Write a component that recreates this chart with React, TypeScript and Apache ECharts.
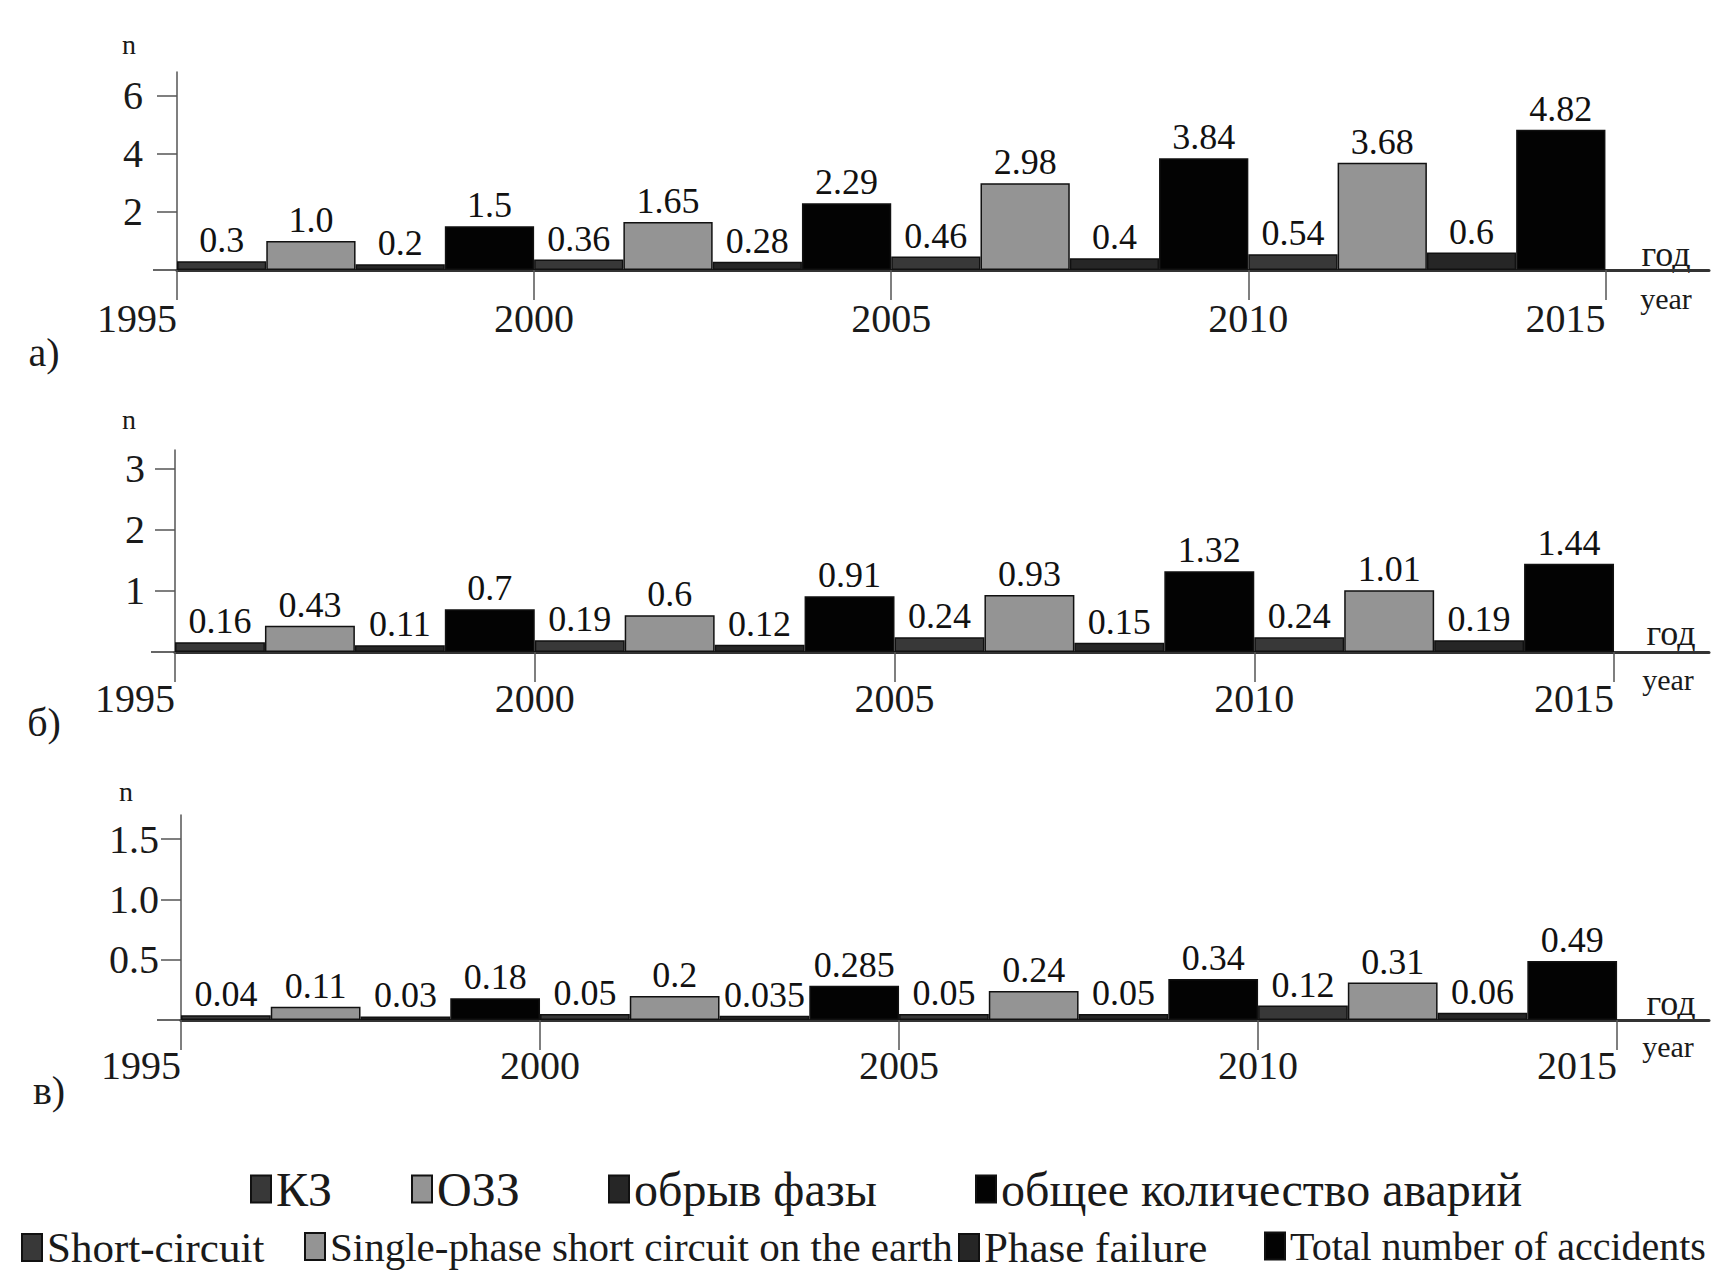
import React, { useEffect, useRef } from 'react';
import * as echarts from 'echarts';

// ---------- data ----------
const periods = [1995, 2000, 2005, 2010];
const yearTicks = [1995, 2000, 2005, 2010, 2015];
const seriesNamesRu = ['КЗ', 'ОЗЗ', 'обрыв фазы', 'общее количество аварий'];
const seriesNamesEn = ['Short-circuit', 'Single-phase short circuit on the earth', 'Phase failure', 'Total number of accidents'];

// panel а)
const kzA = [0.3, 0.36, 0.46, 0.54];
const ozzA = [1.0, 1.65, 2.98, 3.68];
const phaseA = [0.2, 0.28, 0.4, 0.6];
const totalA = [1.5, 2.29, 3.84, 4.82];
const yTicksA = [2, 4, 6];

// panel б)
const kzB = [0.16, 0.19, 0.24, 0.24];
const ozzB = [0.43, 0.6, 0.93, 1.01];
const phaseB = [0.11, 0.12, 0.15, 0.19];
const totalB = [0.7, 0.91, 1.32, 1.44];
const yTicksB = [1, 2, 3];

// panel в)
const kzC = [0.04, 0.05, 0.05, 0.12];
const ozzC = [0.11, 0.2, 0.24, 0.31];
const phaseC = [0.03, 0.035, 0.05, 0.06];
const totalC = [0.18, 0.285, 0.34, 0.49];
const yTicksC = [0.5, 1.0, 1.5];

// ---------- styling / layout ----------
const FONT = '"Liberation Serif", "Times New Roman", serif';
const colors = ['#383838', '#949494', '#262626', '#030303'];
const slotWidth = 5 / 4; // each 5-year span holds 4 adjacent bars

const panels = [
  { values: [kzA, ozzA, phaseA, totalA], yTicks: yTicksA, yMax: 6.8, yDec: 0,
    left: 177, top: 72, width: 1532, height: 198, xMax: 2016.45,
    yLabelMargin: 34, xLabelMargin: 28, letter: 'а)', letterPos: [44, 352],
    nPos: [129, 44], godPos: [1666, 254], yearPos: [1666, 298] },
  { values: [kzB, ozzB, phaseB, totalB], yTicks: yTicksB, yMax: 3.3, yDec: 0,
    left: 175, top: 450, width: 1534, height: 202, xMax: 2016.32,
    yLabelMargin: 30, xLabelMargin: 26, letter: 'б)', letterPos: [44, 722],
    nPos: [129, 419], godPos: [1671, 633], yearPos: [1668, 679] },
  { values: [kzC, ozzC, phaseC, totalC], yTicks: yTicksC, yMax: 1.7, yDec: 1,
    left: 181, top: 815, width: 1528, height: 205, xMax: 2016.28,
    yLabelMargin: 22, xLabelMargin: 25, letter: 'в)', letterPos: [49, 1090],
    nPos: [126, 791], godPos: [1671, 1003], yearPos: [1668, 1046] },
];

const legendRuLeft = [245, 406, 603, 970];
const legendRuFont = [48, 48, 48, 48];
const legendEnLeft = [16, 299, 953, 1259];
const legendEnFont = [43, 41, 43, 40];

const fmtVal = (v: number) => (Number.isInteger(v) ? v.toFixed(1) : String(v));

export default function App() {
  const ref = useRef<HTMLDivElement>(null);

  useEffect(() => {
    if (!ref.current) return;
    const chart = echarts.init(ref.current, undefined, { renderer: 'svg' });

    const grid: any[] = [];
    const xAxis: any[] = [];
    const yAxis: any[] = [];
    const series: any[] = [];
    const graphic: any[] = [];

    panels.forEach((p, pi) => {
      grid.push({ left: p.left, top: p.top, width: p.width, height: p.height, containLabel: false });
      xAxis.push({
        type: 'value', gridIndex: pi, min: 1995, max: p.xMax,
        axisLine: { show: true, onZero: true, lineStyle: { color: '#333', width: 3 } },
        axisTick: { show: true, customValues: yearTicks, length: 30, lineStyle: { color: '#555', width: 1.5 } },
        axisLabel: {
          show: true, customValues: yearTicks, margin: p.xLabelMargin,
          fontSize: 40, fontFamily: FONT, color: '#1a1a1a',
          alignMinLabel: 'right', alignMaxLabel: 'right',
          formatter: (v: number) => String(v),
        },
        splitLine: { show: false },
      });
      yAxis.push({
        type: 'value', gridIndex: pi, min: 0, max: p.yMax,
        axisLine: { show: true, lineStyle: { color: '#555', width: 1.5 } },
        axisTick: { show: true, customValues: p.yTicks, length: 20, lineStyle: { color: '#555', width: 1.5 } },
        axisLabel: {
          show: true, customValues: p.yTicks, margin: p.yLabelMargin,
          fontSize: 40, fontFamily: FONT, color: '#1a1a1a',
          formatter: (v: number) => v.toFixed(p.yDec),
        },
        splitLine: { show: false },
      });
      p.values.forEach((vals, s) => {
        series.push({
          type: 'bar', name: seriesNamesRu[s], xAxisIndex: pi, yAxisIndex: pi,
          barGap: '-100%', barCategoryGap: '0%',
          data: vals.map((v, k) => [periods[k] + slotWidth * (s + 0.5), v]),
          itemStyle: { color: colors[s], borderColor: '#111', borderWidth: 1.5 },
          label: {
            show: true, position: 'top', distance: 3,
            fontSize: 36, fontFamily: FONT, color: '#111',
            formatter: (prm: any) => fmtVal(prm.value[1]),
          },
        });
      });
      // left extension of the x axis line
      graphic.push({
        type: 'line', shape: { x1: p.left - 24, y1: p.top + p.height, x2: p.left, y2: p.top + p.height },
        style: { stroke: '#666', lineWidth: 2 },
      });
      const txt = (text: string, pos: number[], size: number) => graphic.push({
        type: 'text',
        style: { text, x: pos[0], y: pos[1], fill: '#1a1a1a', fontSize: size, fontFamily: FONT, align: 'center', verticalAlign: 'middle' },
      });
      txt('n', p.nPos, 28);
      txt('год', p.godPos, 36);
      txt('year', p.yearPos, 30);
      txt(p.letter, p.letterPos, 40);
    });

    // dummy series (no data) carrying the English legend names
    seriesNamesEn.forEach((name, s) => {
      series.push({
        type: 'bar', name, xAxisIndex: 0, yAxisIndex: 0, data: [],
        barGap: '-100%', barCategoryGap: '0%',
        itemStyle: { color: colors[s], borderColor: '#111', borderWidth: 1 },
      });
    });

    const legend: any[] = [];
    seriesNamesRu.forEach((name, i) => legend.push({
      data: [name], left: legendRuLeft[i], top: 1160, icon: 'rect', itemWidth: 20, itemHeight: 27,
      selectedMode: false,
      textStyle: { fontSize: legendRuFont[i], fontFamily: FONT, color: '#1a1a1a' },
    }));
    seriesNamesEn.forEach((name, i) => legend.push({
      data: [name], left: legendEnLeft[i], top: 1221, icon: 'rect', itemWidth: 20, itemHeight: 27,
      selectedMode: false,
      textStyle: { fontSize: legendEnFont[i], fontFamily: FONT, color: '#1a1a1a' },
    }));

    chart.setOption({
      animation: false,
      backgroundColor: '#ffffff',
      grid, xAxis, yAxis, series, legend, graphic,
    });

    return () => chart.dispose();
  }, []);

  return (
    <div
      ref={ref}
      style={{ position: 'absolute', left: 0, top: 0, width: 1718, height: 1274 }}
    />
  );
}
